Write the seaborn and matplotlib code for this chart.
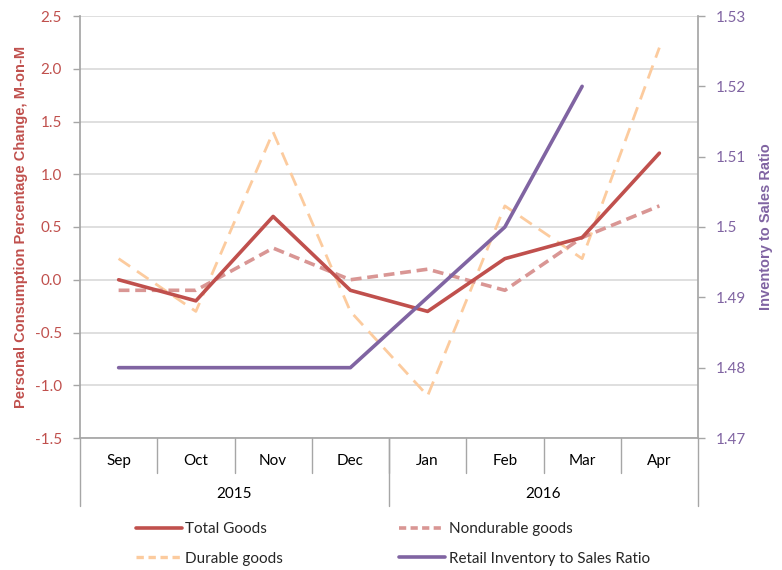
import numpy as np
import pandas as pd
import matplotlib
matplotlib.use("Agg")
import matplotlib.pyplot as plt
from matplotlib.lines import Line2D
import seaborn as sns

months = ["Sep", "Oct", "Nov", "Dec", "Jan", "Feb", "Mar", "Apr"]
years = ["2015", "2016"]
total_goods = [0.0, -0.2, 0.6, -0.1, -0.3, 0.2, 0.4, 1.2]
nondurable_goods = [-0.1, -0.1, 0.3, 0.0, 0.1, -0.1, 0.4, 0.7]
durable_goods = [0.2, -0.3, 1.4, -0.3, -1.1, 0.7, 0.2, 2.2]
inventory_ratio = [1.48, 1.48, 1.48, 1.48, 1.49, 1.50, 1.52, np.nan]

C_TOTAL = "#C0504D"
C_NONDUR = "#D99694"
C_DUR = "#FCCB9E"
C_INV = "#8064A2"
GRID = "#D9D9D9"
AXIS = "#A6A6A6"

sns.set_theme(style="white")
plt.rcParams["font.family"] = ["Lato", "DejaVu Sans"]

df = pd.DataFrame({
    "pos": np.arange(len(months)),
    "month": months,
    "total": total_goods,
    "nondur": nondurable_goods,
    "dur": durable_goods,
    "inv": inventory_ratio,
})

fig = plt.figure(figsize=(7.82, 5.70), dpi=100)
ax = fig.add_axes([80 / 782, 1 - 438 / 570, (698 - 80) / 782, (438 - 16) / 570])
ax2 = ax.twinx()

sns.lineplot(data=df, x="pos", y="dur", ax=ax, color=C_DUR, lw=2.0,
             linestyle=(0, (5, 3)), label="Durable goods", legend=False)
sns.lineplot(data=df, x="pos", y="nondur", ax=ax, color=C_NONDUR, lw=2.6,
             linestyle=(0, (3, 1.6)), label="Nondurable goods", legend=False)
sns.lineplot(data=df, x="pos", y="total", ax=ax, color=C_TOTAL, lw=2.6,
             label="Total Goods", legend=False)
sns.lineplot(data=df.dropna(), x="pos", y="inv", ax=ax2, color=C_INV, lw=2.6,
             label="Retail Inventory to Sales Ratio", legend=False)

ax.set_xlim(-0.5, len(months) - 0.5)
ax.set_ylim(-1.5, 2.5)
ax.set_yticks(np.arange(-1.5, 2.51, 0.5))
ax.set_yticklabels([f"{v:.1f}" for v in np.arange(-1.5, 2.51, 0.5)])
ax2.set_ylim(1.47, 1.53)
ax2.set_yticks([1.47, 1.48, 1.49, 1.50, 1.51, 1.52, 1.53])
ax2.set_yticklabels(["1.47", "1.48", "1.49", "1.5", "1.51", "1.52", "1.53"])

ax.yaxis.grid(True, color=GRID, lw=1.2)
ax.set_axisbelow(True)
ax.set_xticks([])
ax.set_xlabel("")
ax2.set_xlabel("")

for a in (ax, ax2):
    for s in a.spines.values():
        s.set_visible(False)
ax.spines["left"].set_visible(True)
ax.spines["left"].set_color(AXIS)
ax.spines["bottom"].set_visible(True)
ax.spines["bottom"].set_color(AXIS)
ax2.spines["right"].set_visible(True)
ax2.spines["right"].set_color(AXIS)

ax.tick_params(axis="y", colors=AXIS, labelcolor=C_TOTAL, labelsize=11,
               length=5, width=1, direction="out", left=True, pad=8)
ax2.tick_params(axis="y", colors=AXIS, labelcolor=C_INV, labelsize=11,
                length=5, width=1, direction="out", right=True, pad=8)

label_font = dict(family=["Liberation Sans", "DejaVu Sans"], fontsize=10.5,
                  fontweight="bold")
ax.set_ylabel("Personal Consumption Percentage Change, M-on-M",
              color=C_TOTAL, labelpad=5, **label_font)
ax2.set_ylabel("Inventory to Sales Ratio", color=C_INV, labelpad=9,
               **label_font)

# two-level category axis: months, then years
trans = ax.get_xaxis_transform()
for i, m in enumerate(months):
    ax.text(i, -0.054, m, transform=trans, ha="center", va="center",
            fontsize=11, color="#000000")
for b in np.arange(0.5, len(months) - 1, 1.0):
    ax.add_line(Line2D([b, b], [0, -0.083], transform=trans, color=AXIS,
                       lw=1, clip_on=False))
for b in [-0.5, 3.5, len(months) - 0.5]:
    ax.add_line(Line2D([b, b], [0, -0.16], transform=trans, color=AXIS,
                       lw=1, clip_on=False))
for j, y in enumerate(years):
    ax.text(1.5 + 4 * j, -0.132, y, transform=trans, ha="center",
            va="center", fontsize=11, color="#000000")

handles = [
    Line2D([], [], color=C_TOTAL, lw=2.6),
    Line2D([], [], color=C_DUR, lw=2.4, linestyle=(0, (2.2, 1.4))),
    Line2D([], [], color=C_NONDUR, lw=2.6, linestyle=(0, (2, 1.2))),
    Line2D([], [], color=C_INV, lw=2.6),
]
labels = ["Total Goods", "Durable goods", "Nondurable goods",
          "Retail Inventory to Sales Ratio"]
fig.legend(handles, labels, ncol=2, loc="center",
           bbox_to_anchor=(393 / 782, 1 - 544 / 570),
           frameon=False, fontsize=11, handlelength=3.0, handletextpad=0.25,
           columnspacing=7.6, labelspacing=1.0)

fig.savefig("out.png", dpi=100)
